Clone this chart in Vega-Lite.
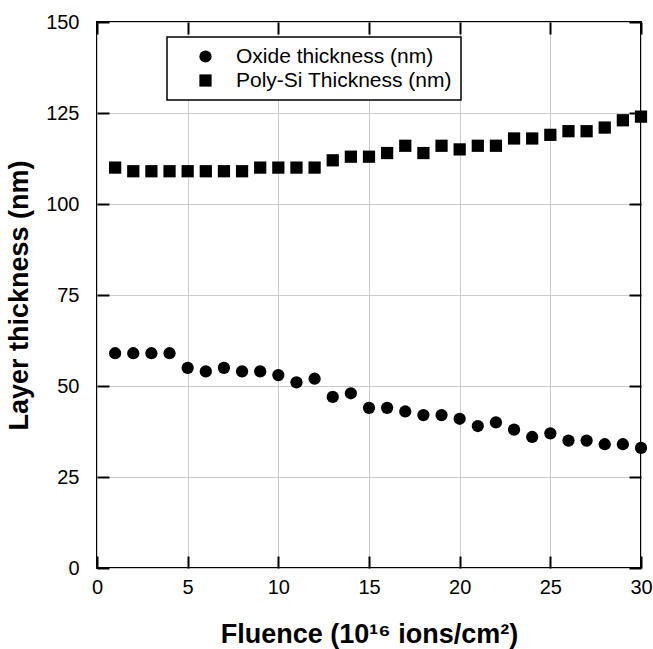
{
  "$schema": "https://vega.github.io/schema/vega-lite/v6.json",
  "width": 544,
  "height": 546,
  "autosize": "none",
  "padding": {"left": 97, "top": 22, "right": 12, "bottom": 81},
  "background": "white",
  "config": {
    "font": "Liberation Sans",
    "view": {"stroke": "black", "strokeWidth": 2},
    "legend": {"strokeWidth": 1.5}
  },
  "data": {
    "values": [
      {"fluence": 1, "thickness": 59, "series": "Oxide thickness (nm)"},
      {"fluence": 2, "thickness": 59, "series": "Oxide thickness (nm)"},
      {"fluence": 3, "thickness": 59, "series": "Oxide thickness (nm)"},
      {"fluence": 4, "thickness": 59, "series": "Oxide thickness (nm)"},
      {"fluence": 5, "thickness": 55, "series": "Oxide thickness (nm)"},
      {"fluence": 6, "thickness": 54, "series": "Oxide thickness (nm)"},
      {"fluence": 7, "thickness": 55, "series": "Oxide thickness (nm)"},
      {"fluence": 8, "thickness": 54, "series": "Oxide thickness (nm)"},
      {"fluence": 9, "thickness": 54, "series": "Oxide thickness (nm)"},
      {"fluence": 10, "thickness": 53, "series": "Oxide thickness (nm)"},
      {"fluence": 11, "thickness": 51, "series": "Oxide thickness (nm)"},
      {"fluence": 12, "thickness": 52, "series": "Oxide thickness (nm)"},
      {"fluence": 13, "thickness": 47, "series": "Oxide thickness (nm)"},
      {"fluence": 14, "thickness": 48, "series": "Oxide thickness (nm)"},
      {"fluence": 15, "thickness": 44, "series": "Oxide thickness (nm)"},
      {"fluence": 16, "thickness": 44, "series": "Oxide thickness (nm)"},
      {"fluence": 17, "thickness": 43, "series": "Oxide thickness (nm)"},
      {"fluence": 18, "thickness": 42, "series": "Oxide thickness (nm)"},
      {"fluence": 19, "thickness": 42, "series": "Oxide thickness (nm)"},
      {"fluence": 20, "thickness": 41, "series": "Oxide thickness (nm)"},
      {"fluence": 21, "thickness": 39, "series": "Oxide thickness (nm)"},
      {"fluence": 22, "thickness": 40, "series": "Oxide thickness (nm)"},
      {"fluence": 23, "thickness": 38, "series": "Oxide thickness (nm)"},
      {"fluence": 24, "thickness": 36, "series": "Oxide thickness (nm)"},
      {"fluence": 25, "thickness": 37, "series": "Oxide thickness (nm)"},
      {"fluence": 26, "thickness": 35, "series": "Oxide thickness (nm)"},
      {"fluence": 27, "thickness": 35, "series": "Oxide thickness (nm)"},
      {"fluence": 28, "thickness": 34, "series": "Oxide thickness (nm)"},
      {"fluence": 29, "thickness": 34, "series": "Oxide thickness (nm)"},
      {"fluence": 30, "thickness": 33, "series": "Oxide thickness (nm)"},
      {"fluence": 1, "thickness": 110, "series": "Poly-Si Thickness (nm)"},
      {"fluence": 2, "thickness": 109, "series": "Poly-Si Thickness (nm)"},
      {"fluence": 3, "thickness": 109, "series": "Poly-Si Thickness (nm)"},
      {"fluence": 4, "thickness": 109, "series": "Poly-Si Thickness (nm)"},
      {"fluence": 5, "thickness": 109, "series": "Poly-Si Thickness (nm)"},
      {"fluence": 6, "thickness": 109, "series": "Poly-Si Thickness (nm)"},
      {"fluence": 7, "thickness": 109, "series": "Poly-Si Thickness (nm)"},
      {"fluence": 8, "thickness": 109, "series": "Poly-Si Thickness (nm)"},
      {"fluence": 9, "thickness": 110, "series": "Poly-Si Thickness (nm)"},
      {"fluence": 10, "thickness": 110, "series": "Poly-Si Thickness (nm)"},
      {"fluence": 11, "thickness": 110, "series": "Poly-Si Thickness (nm)"},
      {"fluence": 12, "thickness": 110, "series": "Poly-Si Thickness (nm)"},
      {"fluence": 13, "thickness": 112, "series": "Poly-Si Thickness (nm)"},
      {"fluence": 14, "thickness": 113, "series": "Poly-Si Thickness (nm)"},
      {"fluence": 15, "thickness": 113, "series": "Poly-Si Thickness (nm)"},
      {"fluence": 16, "thickness": 114, "series": "Poly-Si Thickness (nm)"},
      {"fluence": 17, "thickness": 116, "series": "Poly-Si Thickness (nm)"},
      {"fluence": 18, "thickness": 114, "series": "Poly-Si Thickness (nm)"},
      {"fluence": 19, "thickness": 116, "series": "Poly-Si Thickness (nm)"},
      {"fluence": 20, "thickness": 115, "series": "Poly-Si Thickness (nm)"},
      {"fluence": 21, "thickness": 116, "series": "Poly-Si Thickness (nm)"},
      {"fluence": 22, "thickness": 116, "series": "Poly-Si Thickness (nm)"},
      {"fluence": 23, "thickness": 118, "series": "Poly-Si Thickness (nm)"},
      {"fluence": 24, "thickness": 118, "series": "Poly-Si Thickness (nm)"},
      {"fluence": 25, "thickness": 119, "series": "Poly-Si Thickness (nm)"},
      {"fluence": 26, "thickness": 120, "series": "Poly-Si Thickness (nm)"},
      {"fluence": 27, "thickness": 120, "series": "Poly-Si Thickness (nm)"},
      {"fluence": 28, "thickness": 121, "series": "Poly-Si Thickness (nm)"},
      {"fluence": 29, "thickness": 123, "series": "Poly-Si Thickness (nm)"},
      {"fluence": 30, "thickness": 124, "series": "Poly-Si Thickness (nm)"}
    ]
  },
  "layer": [
    {
      "mark": {"type": "point", "filled": true, "color": "black", "opacity": 1, "size": 150, "clip": false},
      "encoding": {
        "x": {
          "field": "fluence", "type": "quantitative",
          "scale": {"domain": [0, 30], "nice": false, "zero": false},
          "axis": {"orient": "bottom", "values": [0, 5, 10, 15, 20, 25, 30], "title": "Fluence (10¹⁶ ions/cm²)",
            "domain": false, "ticks": true, "tickColor": "black", "tickWidth": 2, "tickSize": 12, "offset": -12, "tickOpacity": 1,
            "gridColor": "#cccccc", "gridWidth": 1, "labelFlush": false,
            "labelFont": "Liberation Sans", "labelFontSize": 20, "labelColor": "black", "labelPadding": 9,
            "titleFont": "Liberation Sans", "titleFontSize": 27, "titleFontWeight": "bold", "titleColor": "black", "titlePadding": 24}
        },
        "y": {
          "field": "thickness", "type": "quantitative",
          "scale": {"domain": [0, 150], "nice": false},
          "axis": {"orient": "left", "values": [0, 25, 50, 75, 100, 125, 150], "title": "Layer thickness (nm)",
            "domain": false, "ticks": true, "tickColor": "black", "tickWidth": 2, "tickSize": 12, "offset": -12, "tickOpacity": 1,
            "gridColor": "#cccccc", "gridWidth": 1,
            "labelFont": "Liberation Sans", "labelFontSize": 20, "labelColor": "black", "labelPadding": 18,
            "titleFont": "Liberation Sans", "titleFontSize": 27, "titleFontWeight": "bold", "titleColor": "black", "titlePadding": 12}
        },
        "shape": {
          "field": "series", "type": "nominal",
          "scale": {"domain": ["Oxide thickness (nm)", "Poly-Si Thickness (nm)"], "range": ["circle", "square"]},
          "legend": {
            "title": null,
            "orient": "none",
            "legendX": 70,
            "legendY": 15,
            "strokeColor": "black",
            "fillColor": "white",
            "padding": 9,
            "symbolOffset": 19,
            "labelOffset": 20,
            "labelLimit": 400,
            "labelFontSize": 21,
            "labelFont": "Liberation Sans",
            "labelColor": "black",
            "symbolFillColor": "black",
            "symbolStrokeColor": "black",
            "symbolStrokeWidth": 0,
            "symbolSize": 150,
            "rowPadding": 2
          }
        }
      }
    },
    {
      "mark": {"type": "point", "opacity": 0},
      "encoding": {
        "x": {
          "field": "fluence", "type": "quantitative",
          "axis": {"orient": "top", "values": [0, 5, 10, 15, 20, 25, 30], "labels": false, "title": null, "grid": false,
            "domain": false, "ticks": true, "tickColor": "black", "tickWidth": 2, "tickSize": 12, "offset": -12, "tickOpacity": 1}
        },
        "y": {
          "field": "thickness", "type": "quantitative",
          "axis": {"orient": "right", "values": [0, 25, 50, 75, 100, 125, 150], "labels": false, "title": null, "grid": false,
            "domain": false, "ticks": true, "tickColor": "black", "tickWidth": 2, "tickSize": 12, "offset": -12, "tickOpacity": 1}
        }
      }
    }
  ],
  "resolve": {"axis": {"x": "independent", "y": "independent"}}
}
